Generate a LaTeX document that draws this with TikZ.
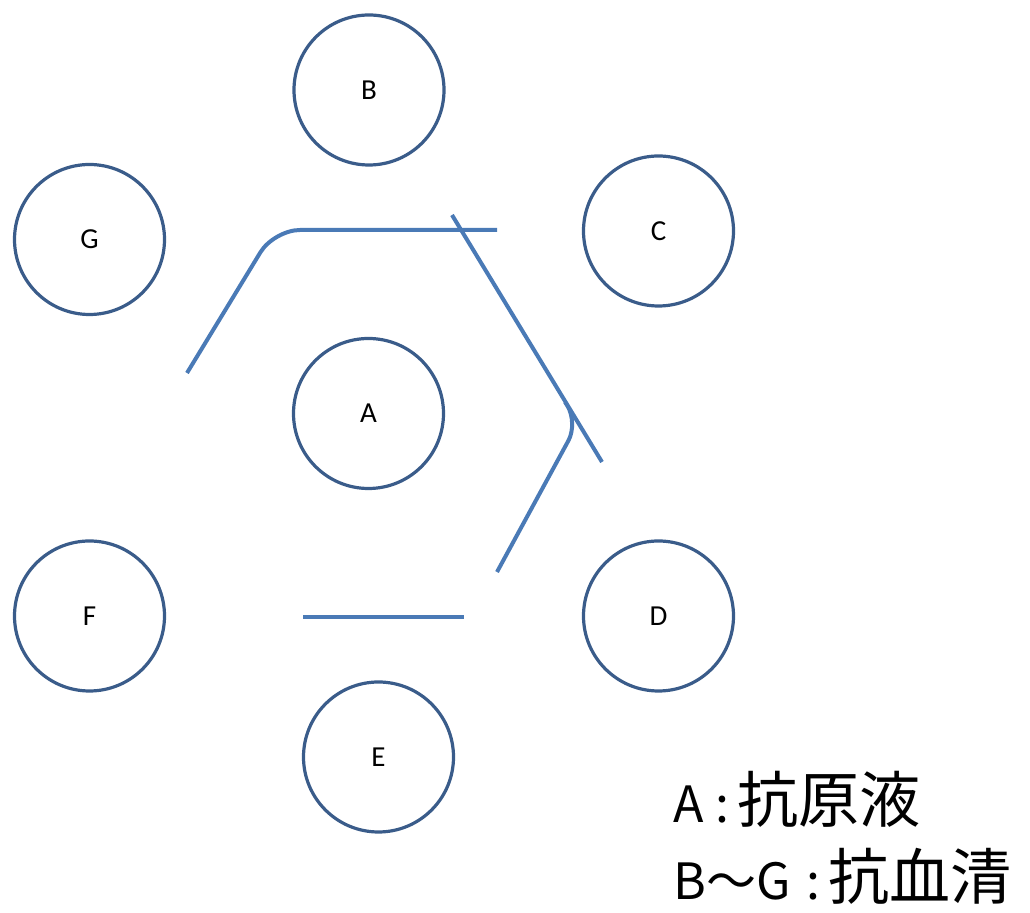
\documentclass[tikz,border=0pt]{standalone}
\usepackage{fontspec}
\setmainfont{Carlito}
\newfontfamily\cjk{Noto Sans CJK JP}
\newcommand{\bigcjk}[1]{{\fontsize{30.5}{36}\selectfont #1}}
\begin{document}
\begin{tikzpicture}[x=0.5pt,y=-0.5pt,
  well/.style={circle,draw=circ,line width=1.6pt,minimum size=75pt,inner sep=0pt,font=\fontsize{14.5}{16}\selectfont},
  cut/.style={draw=cutc,line width=2pt},
  legend/.style={anchor=base west,inner sep=0pt,font=\cjk\fontsize{25}{30}\selectfont}]
\definecolor{circ}{RGB}{58,92,138}
\definecolor{cutc}{RGB}{74,122,182}
\useasboundingbox (0,0) rectangle (1030,913);
\node[well] (B) at (369,90) {B};
\node[well] (G) at (89.5,239.5) {G};
\node[well] (C) at (658.5,231) {C};
\node[well] (A) at (368.5,413.5) {A};
\node[well] (F) at (89.5,616) {F};
\node[well] (D) at (658.5,616) {D};
\node[well] (E) at (378.5,757) {E};
\coordinate (p1) at (187,373);
\coordinate (p2) at (274,230);
\coordinate (p3) at (497,230);
\draw[cut,rounded corners=13pt] (p1) -- (p2) -- (p3);
\coordinate (q1) at (452,215);
\coordinate (q2) at (602,462);
\draw[cut] (q1) -- (q2);
\coordinate (r1) at (497,572);
\coordinate (r2) at (578,423);
\coordinate (r3) at (565,402);
\draw[cut,rounded corners=10pt] (r1) -- (r2) -- (r3);
\coordinate (s1) at (303,617);
\coordinate (s2) at (464,617);
\draw[cut] (s1) -- (s2);
\node[legend] (L1) at (673,823) {A\kern6pt:\kern4pt\bigcjk{抗原液}};
\node[legend] (L2) at (673,900) {B～G\kern8pt:\kern4pt\bigcjk{抗血清}};
\end{tikzpicture}
\end{document}
